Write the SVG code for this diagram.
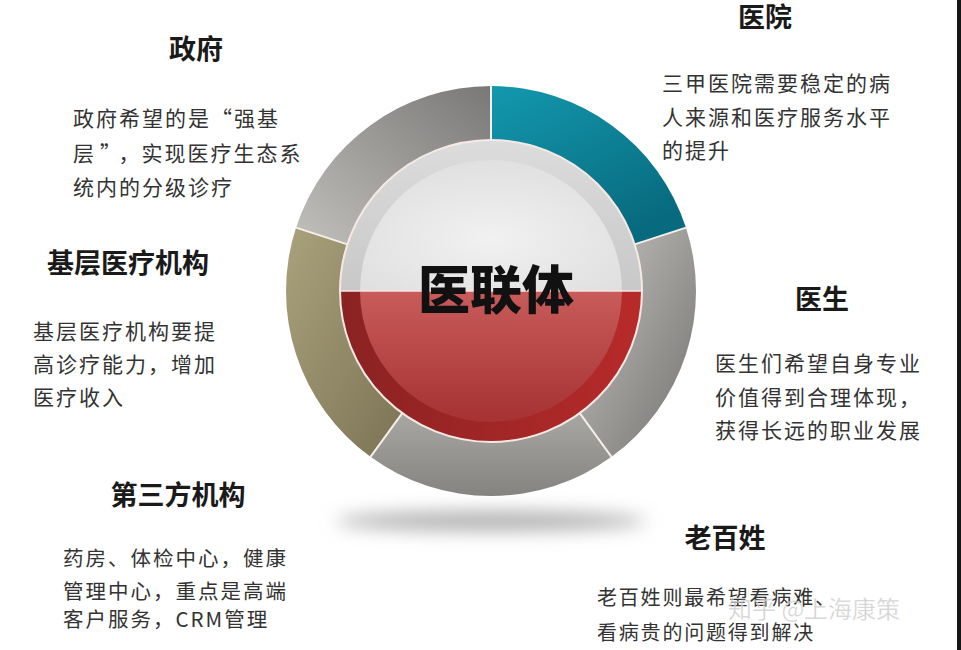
<svg xmlns="http://www.w3.org/2000/svg" width="961" height="650" viewBox="0 0 961 650">
<defs>
<style>
.title{font-family:"Noto Sans CJK SC","Noto Sans",sans-serif;font-weight:bold;font-size:27px;fill:#1a1a1a;text-anchor:middle}
.body{font-family:"Noto Sans CJK SC","Noto Sans",sans-serif;font-size:21px;fill:#333;letter-spacing:2px}
.sep{stroke:#f4efe8;stroke-width:2;fill:none}
</style>
<linearGradient id="gTeal" x1="0" y1="0" x2="0.6" y2="1"><stop offset="0" stop-color="#1398ae"/><stop offset="1" stop-color="#086a7e"/></linearGradient>
<linearGradient id="gG1" x1="0" y1="0" x2="1" y2="1"><stop offset="0" stop-color="#c6c4c1"/><stop offset="1" stop-color="#747270"/></linearGradient>
<linearGradient id="gG2" x1="0" y1="0" x2="0" y2="1"><stop offset="0" stop-color="#a9a7a4"/><stop offset="1" stop-color="#858380"/></linearGradient>
<linearGradient id="gOl" x1="0" y1="0" x2="1" y2="1"><stop offset="0" stop-color="#aaa27c"/><stop offset="1" stop-color="#7b7354"/></linearGradient>
<linearGradient id="gG3" x1="1" y1="0" x2="0" y2="1"><stop offset="0" stop-color="#7a7876"/><stop offset="1" stop-color="#c2c0bd"/></linearGradient>
<linearGradient id="gTopRim" x1="0" y1="0" x2="0" y2="1"><stop offset="0" stop-color="#dcdcdc"/><stop offset="1" stop-color="#c8c8c8"/></linearGradient>
<radialGradient id="gTopIn" cx="0.5" cy="0.6" r="0.6"><stop offset="0" stop-color="#f1f1f1"/><stop offset="1" stop-color="#e0e0e0"/></radialGradient>
<linearGradient id="gRedRim" x1="0" y1="0" x2="1" y2="0"><stop offset="0" stop-color="#8a2222"/><stop offset="1" stop-color="#b82a2a"/></linearGradient>
<linearGradient id="gRedIn" x1="0" y1="0" x2="0" y2="1"><stop offset="0" stop-color="#c95b5b"/><stop offset="1" stop-color="#a63232"/></linearGradient>
<filter id="blur" x="-30%" y="-200%" width="160%" height="500%"><feGaussianBlur stdDeviation="9"/></filter>
</defs>
<rect width="961" height="650" fill="#ffffff"/>
<rect x="957" y="0" width="4" height="650" fill="#151515"/>
<ellipse id="shadow" cx="491" cy="521" rx="155" ry="10" fill="#b0b0b0" filter="url(#blur)"/>

<g id="ring">
<path id="seg-hospital" d="M491,86 A205,205 0 0 1 685.97,227.65 L634.61,244.34 A151,151 0 0 0 491,140 Z" fill="url(#gTeal)"/>
<path id="seg-doctor" d="M685.97,227.65 A205,205 0 0 1 611.5,456.85 L579.76,413.16 A151,151 0 0 0 634.61,244.34 Z" fill="url(#gG1)"/>
<path id="seg-people" d="M611.5,456.85 A205,205 0 0 1 370.5,456.85 L402.24,413.16 A151,151 0 0 0 579.76,413.16 Z" fill="url(#gG2)"/>
<path id="seg-primary" d="M370.5,456.85 A205,205 0 0 1 296.03,227.65 L347.39,244.34 A151,151 0 0 0 402.24,413.16 Z" fill="url(#gOl)"/>
<path id="seg-gov" d="M296.03,227.65 A205,205 0 0 1 491,86 L491,140 A151,151 0 0 0 347.39,244.34 Z" fill="url(#gG3)"/>
<line class="sep" x1="491" y1="86" x2="491" y2="140"/>
<line class="sep" x1="685.97" y1="227.65" x2="634.61" y2="244.34"/>
<line class="sep" x1="611.5" y1="456.85" x2="579.76" y2="413.16"/>
<line class="sep" x1="370.5" y1="456.85" x2="402.24" y2="413.16"/>
<line class="sep" x1="296.03" y1="227.65" x2="347.39" y2="244.34"/>
</g>

<g id="center">
<path d="M340,291 A151,151 0 0 1 642,291 Z" fill="url(#gTopRim)"/>
<path d="M360,291 A131,131 0 0 1 622,291 Z" fill="url(#gTopIn)"/>
<path d="M340,291 A151,151 0 0 0 642,291 Z" fill="url(#gRedRim)"/>
<path d="M360,291 A131,131 0 0 0 622,291 Z" fill="url(#gRedIn)"/>
<circle cx="491" cy="291" r="151" fill="none" stroke="#f6e9e4" stroke-width="2"/>
<line x1="340" y1="291" x2="642" y2="291" stroke="#f3e4e0" stroke-width="1.5"/>
<text x="496" y="309" font-family="'Noto Sans CJK SC',sans-serif" font-weight="900" font-size="52" fill="#111" text-anchor="middle">医联体</text>
</g>

<g id="node-gov">
<text class="title" x="196" y="59">政府</text>
<text class="body" x="73" y="126">政府希望的是“强基</text>
<text class="body" x="73" y="161">层<tspan dx="4">”</tspan><tspan dx="6">，</tspan>实现医疗生态系</text>
<text class="body" x="73" y="195">统内的分级诊疗</text>
</g>

<g id="node-hospital">
<text class="title" x="765" y="27">医院</text>
<text class="body" x="662" y="91">三甲医院需要稳定的病</text>
<text class="body" x="662" y="125">人来源和医疗服务水平</text>
<text class="body" x="662" y="158">的提升</text>
</g>

<g id="node-primary">
<text class="title" x="128" y="273">基层医疗机构</text>
<text class="body" x="33" y="339">基层医疗机构要提</text>
<text class="body" x="33" y="372">高诊疗能力，增加</text>
<text class="body" x="33" y="405">医疗收入</text>
</g>

<g id="node-doctor">
<text class="title" x="822" y="309">医生</text>
<text class="body" x="715" y="371">医生们希望自身专业</text>
<text class="body" x="715" y="405">价值得到合理体现，</text>
<text class="body" x="715" y="438">获得长远的职业发展</text>
</g>

<g id="node-third">
<text class="title" x="178" y="505">第三方机构</text>
<text class="body" x="63" y="566" style="font-size:20.5px">药房、体检中心，健康</text>
<text class="body" x="63" y="599" style="font-size:20.5px">管理中心，重点是高端</text>
<text class="body" x="63" y="627" style="font-size:20.5px">客户服务，CRM管理</text>
</g>

<g id="node-people">
<text class="title" x="725" y="548">老百姓</text>
<text class="body" x="597" y="605" style="font-size:20px;letter-spacing:1.8px">老百姓则最希望看病难、</text>
<text class="body" x="597" y="640" style="font-size:20px;letter-spacing:1.8px">看病贵的问题得到解决</text>
</g>

<text id="watermark" x="728" y="618" font-family="'Noto Sans CJK SC',sans-serif" font-size="24" fill="#bdbdbd" fill-opacity="0.7" stroke="#ffffff" stroke-width="0.6" stroke-opacity="0.6">知乎 @上海康策</text>
</svg>
